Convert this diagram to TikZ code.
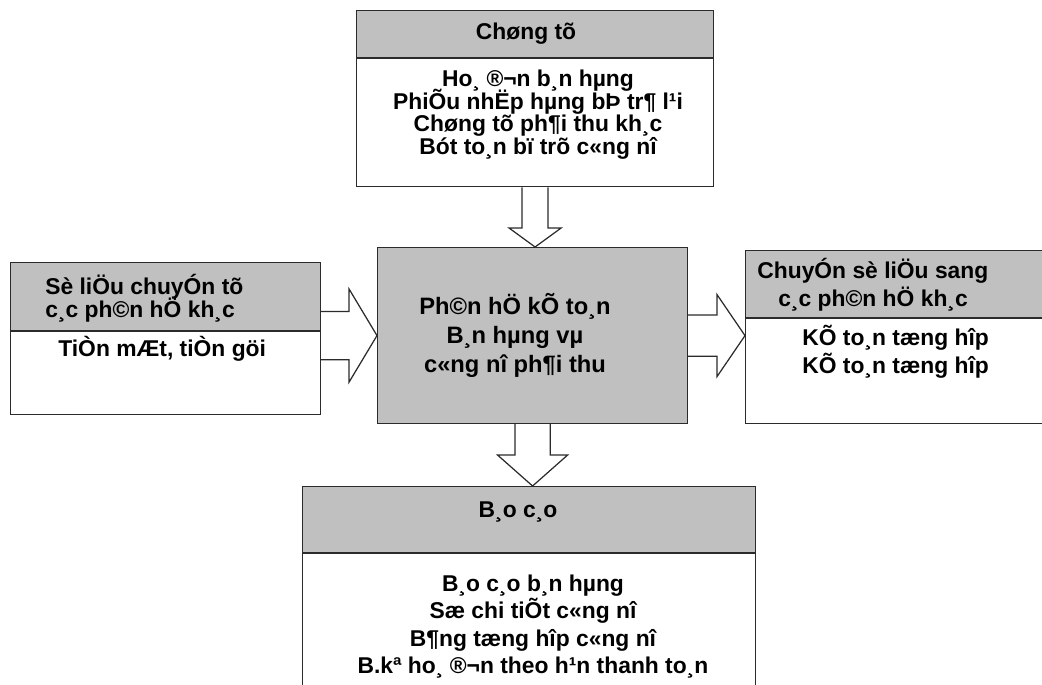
\documentclass[tikz,border=0pt]{standalone}
\usepackage{fontspec}
\setmainfont{Liberation Sans}
\usetikzlibrary{positioning,calc}
\definecolor{headgray}{HTML}{C0C0C0}
\definecolor{edge}{HTML}{2B2B2B}
\setlength{\lineskiplimit}{-50pt}

% block arrows between the boxes
\newcommand\downblock[5]{%
  \draw[blockarrow] let \p1=(#1), \p2=(#2) in
    (\x1-#3,\y1) -- (\x1-#3,\y2+#5) -- (\x1-#4,\y2+#5) -- (\x1,\y2)
    -- (\x1+#4,\y2+#5) -- (\x1+#3,\y2+#5) -- (\x1+#3,\y1);}
\newcommand\rightblock[5]{%
  \draw[blockarrow] let \p1=(#1), \p2=(#2) in
    (\x1,\y2+#3) -- (\x2-#5,\y2+#3) -- (\x2-#5,\y2+#4) -- (\x2,\y2)
    -- (\x2-#5,\y2-#4) -- (\x2-#5,\y2-#3) -- (\x1,\y2-#3);}

\begin{document}
\begin{tikzpicture}[x=0.02cm, y=-0.02cm,
    box/.style={draw=edge, line width=0.7pt, inner sep=0pt, anchor=north west,
                font=\fontsize{13}{15}\selectfont\bfseries},
    headbox/.style={box, fill=headgray},
    txtblock/.style={inner sep=0pt, align=left},
    blockarrow/.style={draw=edge, line width=0.7pt, fill=white}]

  \useasboundingbox (0,0) rectangle (1042,684);
  \clip (0,0) rectangle (1042,684);

  % Chung tu
  \node[headbox, minimum width=7.14cm, minimum height=0.94cm] (chungtu) at (356,10) {Chøng tõ\hspace*{0.36cm}};
  \node[box, minimum width=7.14cm, minimum height=2.56cm, below=0pt of chungtu] (chungtubody) {};
  \node[txtblock, align=center, font=\fontsize{13}{12.8}\selectfont\bfseries, anchor=north] (chungtutxt) at (538,70)
    {Ho¸ ®¬n b¸n hµng\\PhiÕu nhËp hµng bÞ tr¶ l¹i\\Chøng tõ ph¶i thu kh¸c\\Bót to¸n bï trõ c«ng nî};

  % So lieu chuyen tu
  \node[headbox, minimum width=6.2cm, minimum height=1.36cm] (sltu) at (10,262) {};
  \node[box, minimum width=6.2cm, minimum height=1.66cm, below=0pt of sltu] (sltubody) {};
  \node[txtblock, font=\fontsize{13}{13.1}\selectfont\bfseries, anchor=north west] (sltutxt) at (45,274)
    {Sè liÖu chuyÓn tõ\\c¸c ph©n hÖ kh¸c};
  \node[txtblock, font=\fontsize{13}{15}\selectfont\bfseries, anchor=north west] (tien) at (58,336)
    {TiÒn mÆt, tiÒn göi};

  % Phan he
  \node[headbox, minimum width=6.2cm, minimum height=3.52cm] (phanhe) at (377,247) {};
  \node[txtblock, align=center, font=\fontsize{13.5}{16.5}\selectfont\bfseries, anchor=north] (phanhetxt) at (515,293)
    {Ph©n hÖ kÕ to¸n\\B¸n hµng vµ\\c«ng nî ph¶i thu};

  % Chuyen so lieu
  \node[headbox, minimum width=6.34cm, minimum height=1.34cm] (chuyen) at (745,250) {};
  \node[box, minimum width=6.34cm, minimum height=2.1cm, below=0pt of chuyen] (chuyenbody) {};
  \node[txtblock, font=\fontsize{13}{15.9}\selectfont\bfseries, anchor=north west] (chuyentxt) at (757,258)
    {ChuyÓn sè liÖu sang\\\hspace{0.42cm}c¸c ph©n hÖ kh¸c};
  \node[txtblock, font=\fontsize{13}{15.9}\selectfont\bfseries, anchor=north west] (ketoan) at (802,325)
    {KÕ to¸n tæng hîp\\KÕ to¸n tæng hîp};

  % Bao cao
  \node[headbox, minimum width=9.06cm, minimum height=1.32cm] (baocao) at (302,486) {};
  \node[box, minimum width=9.06cm, minimum height=3.16cm, below=0pt of baocao] (baocaobody) {};
  \node[txtblock, font=\fontsize{13}{15}\selectfont\bfseries, anchor=north] (baocaotxt) at (518,501) {B¸o c¸o};
  \node[txtblock, align=center, font=\fontsize{13}{15.4}\selectfont\bfseries, anchor=north] (baocaolist) at (533,575)
    {B¸o c¸o b¸n hµng\\Sæ chi tiÕt c«ng nî\\B¶ng tæng hîp c«ng nî\\B.kª ho¸ ®¬n theo h¹n thanh to¸n};

  % arrows
  \downblock{chungtubody.south}{phanhe.north}{7.4pt}{14.8pt}{10.8pt}
  \rightblock{sltubody.north east}{phanhe.west}{13.7pt}{26.5pt}{15.9pt}
  \rightblock{phanhe.east}{chuyen.west |- phanhe.east}{11.7pt}{23.3pt}{15.9pt}
  \downblock{phanhe.south}{baocao.north}{10pt}{19.9pt}{17.6pt}
\end{tikzpicture}
\end{document}
